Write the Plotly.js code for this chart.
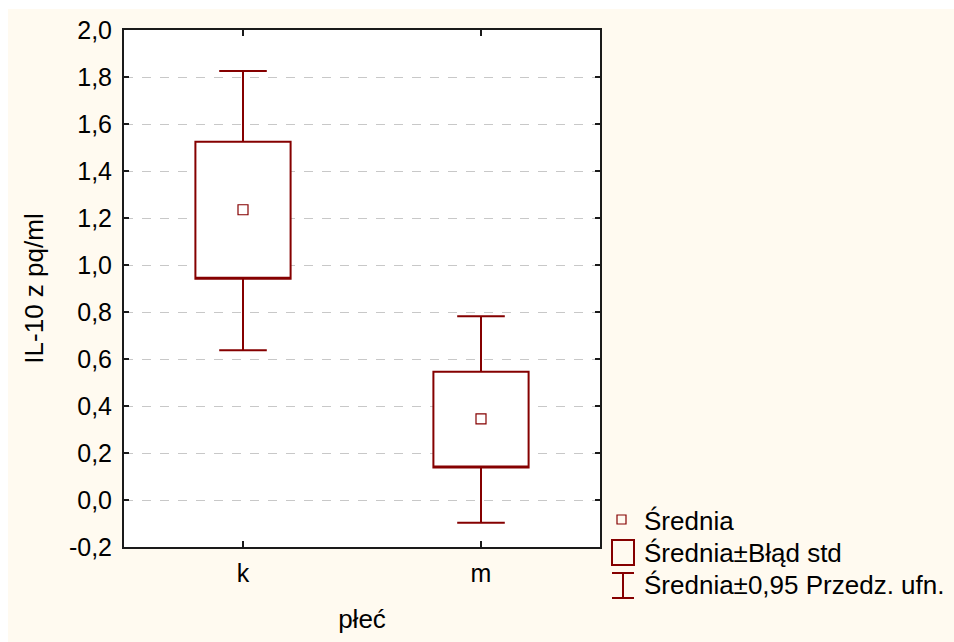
<!DOCTYPE html>
<html>
<head>
<meta charset="utf-8">
<script src="https://cdn.plot.ly/plotly-3.0.1.min.js"></script>
<style>
  html, body { margin: 0; padding: 0; background: #ffffff; }
  #chart { position: absolute; left: 8px; top: 9px; width: 946px; height: 633px; }
</style>
</head>
<body>
<div id="chart"></div>
<script>
// ---- data ----
const categories = ['k', 'm'];
const means      = [1.235, 0.345];
const seLow      = [0.941, 0.138];   // mean - std error
const seHigh     = [1.524, 0.546];   // mean + std error
const ciLow      = [0.637, -0.097];  // mean - 0.95 CI
const ciHigh     = [1.826, 0.782];   // mean + 0.95 CI

const yTickVals = [-0.2, 0.0, 0.2, 0.4, 0.6, 0.8, 1.0, 1.2, 1.4, 1.6, 1.8, 2.0];
const yTickText = ['-0,2', '0,0', '0,2', '0,4', '0,6', '0,8', '1,0', '1,2', '1,4', '1,6', '1,8', '2,0'];

const legendLabels = ['Średnia', 'Średnia±Błąd std', 'Średnia±0,95 Przedz. ufn.'];

// ---- styling ----
const RED = '#850000';
const FONT = '"Liberation Sans", Arial, sans-serif';
const FS = 25;
const FS2 = 26;

// plot area in page pixels (for legend placement helpers)
const PL = 124, PR = 600, PT = 30, PB = 547;
const px = v => (v - PL) / (PR - PL);
const py = v => (PB - v) / (PB - PT);

const traces = [
  {
    type: 'box',
    x: categories,
    q1: seLow,
    q3: seHigh,
    median: seLow,
    lowerfence: ciLow,
    upperfence: ciHigh,
    width: 0.4,
    whiskerwidth: 0.5,
    fillcolor: '#ffffff',
    line: { color: RED, width: 2 },
    boxpoints: false,
    hoverinfo: 'skip',
    showlegend: false
  },
  {
    type: 'scatter',
    mode: 'markers',
    x: categories,
    y: means,
    marker: { symbol: 'square-open', size: 10, color: RED, line: { width: 1.2, color: RED } },
    hoverinfo: 'skip',
    showlegend: false
  }
];

const shapes = [
  // legend: mean marker
  { type: 'rect', xref: 'paper', yref: 'paper', x0: px(617), x1: px(626), y0: py(524), y1: py(515),
    line: { color: RED, width: 1.2 }, fillcolor: 'rgba(0,0,0,0)' },
  // legend: box
  { type: 'rect', xref: 'paper', yref: 'paper', x0: px(612), x1: px(634), y0: py(565), y1: py(540),
    line: { color: RED, width: 2 }, fillcolor: 'rgba(0,0,0,0)' },
  // legend: whisker
  { type: 'line', xref: 'paper', yref: 'paper', x0: px(623), x1: px(623), y0: py(573), y1: py(598),
    line: { color: RED, width: 2 } },
  { type: 'line', xref: 'paper', yref: 'paper', x0: px(612), x1: px(634), y0: py(573), y1: py(573),
    line: { color: RED, width: 2 } },
  { type: 'line', xref: 'paper', yref: 'paper', x0: px(612), x1: px(634), y0: py(598), y1: py(598),
    line: { color: RED, width: 2 } }
];

const legendY = [521, 553, 585];
const annotations = legendLabels.map((t, i) => ({
  text: t, xref: 'paper', yref: 'paper', x: px(642), y: py(legendY[i]),
  xanchor: 'left', yanchor: 'middle', showarrow: false,
  font: { family: FONT, size: FS2, color: '#000' }
}));

const layout = {
  width: 946, height: 633,
  paper_bgcolor: '#FFFAF0',
  plot_bgcolor: '#ffffff',
  margin: { l: 116, r: 354, t: 21, b: 95, pad: 0 },
  font: { family: FONT, size: FS, color: '#000' },
  showlegend: false,
  xaxis: {
    type: 'category',
    range: [-0.5, 1.5],
    showline: true, linecolor: '#1a1a1a', linewidth: 2, mirror: 'ticks',
    ticks: 'inside', ticklen: 6, tickwidth: 2, tickcolor: '#1a1a1a',
    showgrid: false, zeroline: false,
    ticklabelstandoff: 3,
    tickfont: { family: FONT, size: FS, color: '#000' },
    title: { text: 'płeć', standoff: 24, font: { family: FONT, size: FS2, color: '#000' } },
    fixedrange: true
  },
  yaxis: {
    range: [-0.2, 2.0],
    tickvals: yTickVals, ticktext: yTickText,
    showline: true, linecolor: '#1a1a1a', linewidth: 2, mirror: 'ticks',
    ticks: 'inside', ticklen: 5, tickwidth: 2, tickcolor: '#1a1a1a',
    showgrid: true, gridcolor: '#c8c8c8', gridwidth: 1, griddash: 'dash',
    zeroline: false,
    ticklabelstandoff: 5,
    tickfont: { family: FONT, size: FS, color: '#000' },
    title: { text: 'IL-10 z pq/ml', standoff: 18, font: { family: FONT, size: FS2, color: '#000' } },
    fixedrange: true
  },
  shapes: shapes,
  annotations: annotations
};

Plotly.newPlot('chart', traces, layout, { displayModeBar: false, staticPlot: true });
</script>
</body>
</html>
